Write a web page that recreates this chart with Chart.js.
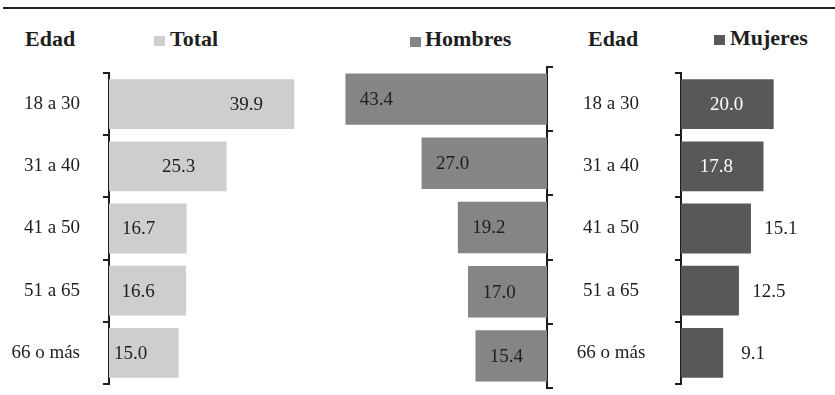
<!DOCTYPE html>
<html lang="es">
<head>
<meta charset="utf-8">
<title>Distribución por edad y sexo</title>
<script src="https://cdn.jsdelivr.net/npm/chart.js@4.4.1/dist/chart.umd.min.js"></script>
<style>
  html, body { margin: 0; padding: 0; background: #fff; }
  body {
    width: 835px; height: 395px; position: relative; overflow: hidden;
    font-family: "Liberation Serif", "DejaVu Serif", "Noto Serif", Tinos, "Times New Roman", "Nimbus Roman", FreeSerif, Georgia, serif;
    color: #1e1e1e;
  }
  .rule { position: absolute; left: 3px; right: 0; top: 7px; height: 2px; background: #222; }
  .head { position: absolute; top: 28px; font-size: 22px; font-weight: bold; line-height: 22px; white-space: nowrap; }
  .swatch { position: absolute; width: 11px; height: 10px; }
  canvas { position: absolute; top: 0; }
</style>
</head>
<body>
<div class="rule"></div>

<div class="head" style="left:25px">Edad</div>
<div class="swatch" style="left:154px;top:36px;background:#cecece"></div>
<div class="head" style="left:170px">Total</div>

<div class="swatch" style="left:410px;top:37px;background:#858585"></div>
<div class="head" style="left:425px">Hombres</div>
<div class="head" style="left:588px">Edad</div>
<div class="swatch" style="left:714px;top:35px;background:#585858"></div>
<div class="head" style="left:730px;top:27px">Mujeres</div>

<canvas id="totalChart" width="330" height="395" style="left:0"></canvas>
<canvas id="hombresChart" width="230" height="395" style="left:330px"></canvas>
<canvas id="mujeresChart" width="275" height="395" style="left:560px"></canvas>

<script>
  const ageGroups = ['18 a 30', '31 a 40', '41 a 50', '51 a 65', '66 o más'];
  const totalValues = [39.9, 25.3, 16.7, 16.6, 15.0];
  const hombresValues = [43.4, 27.0, 19.2, 17.0, 15.4];
  const mujeresValues = [20.0, 17.8, 15.1, 12.5, 9.1];

  const INK = '#1e1e1e';
  const FONT_FAMILY = '"Liberation Serif", "DejaVu Serif", "Noto Serif", Tinos, "Times New Roman", "Nimbus Roman", FreeSerif, Georgia, serif';
  const LABEL_FONT = { family: FONT_FAMILY, size: 19 };

  // draws the number next to/inside each bar, placement decided per chart
  function valueLabels(place) {
    return {
      id: 'valueLabels',
      afterDatasetsDraw(chart) {
        const { ctx } = chart;
        const meta = chart.getDatasetMeta(0);
        const values = chart.data.datasets[0].data;
        ctx.save();
        ctx.font = `${LABEL_FONT.size}px ${FONT_FAMILY}`;
        ctx.textAlign = 'center';
        ctx.textBaseline = 'middle';
        meta.data.forEach((bar, i) => {
          const spot = place(bar, values[i]);
          ctx.fillStyle = spot.color;
          ctx.fillText(values[i].toFixed(1), spot.x, bar.y + 1);
        });
        ctx.restore();
      }
    };
  }

  // bracket style age axis: border plus short ticks between groups
  function ageAxis(position, width, ticks) {
    return {
      position: position,
      offset: true,
      z: 1,
      border: { display: true, color: INK, width: 2 },
      grid: { offset: true, drawOnChartArea: false, drawTicks: true, tickLength: 6, color: INK, lineWidth: 2 },
      ticks: Object.assign({ color: INK, font: LABEL_FONT }, ticks),
      afterFit(scale) {
        scale.width = width;
        // the label padding must not shrink the plot area
        scale.paddingTop = 0;
        scale.paddingBottom = 0;
      }
    };
  }

  function barChart(canvasId, values, color, opts) {
    return new Chart(document.getElementById(canvasId), {
      type: 'bar',
      data: {
        labels: ageGroups,
        datasets: [{
          data: values,
          backgroundColor: color,
          borderWidth: 0,
          categoryPercentage: 1,
          barPercentage: 0.8
        }]
      },
      options: {
        indexAxis: 'y',
        responsive: false,
        animation: false,
        layout: { padding: opts.padding },
        plugins: { legend: { display: false }, tooltip: { enabled: false } },
        scales: {
          x: { display: false, min: 0, max: opts.max, reverse: !!opts.reverse },
          y: opts.axis
        }
      },
      plugins: [valueLabels(opts.place)]
    });
  }

  // Total
  barChart('totalChart', totalValues, '#cecece', {
    max: 45,
    padding: { left: 0, right: 12, top: 73, bottom: 11 },
    axis: ageAxis('left', 109, { padding: 23 }),
    place: bar => ({ x: bar.x - 48, color: INK })
  });

  // Hombres, growing to the left
  barChart('hombresChart', hombresValues, '#858585', {
    max: 45,
    reverse: true,
    padding: { left: 8, right: 0, top: 67, bottom: 7 },
    axis: ageAxis('right', 13, { callback: () => '' }),
    place: bar => ({ x: bar.x + 31, color: INK })
  });

  // Mujeres; its axis also carries the centred age labels in the middle
  const measure = document.createElement('canvas').getContext('2d');
  measure.font = `${LABEL_FONT.size}px ${FONT_FAMILY}`;
  const widest = Math.max(...ageGroups.map(g => measure.measureText(g).width));

  barChart('mujeresChart', mujeresValues, '#585858', {
    max: 30,
    padding: { left: 0, right: 15, top: 73, bottom: 11 },
    axis: ageAxis('left', 121, { crossAlign: 'center', padding: Math.max(0, 64 - widest / 2) }),
    place: (bar, v) => v >= 17
      ? { x: bar.x - 47, color: '#ffffff' }
      : { x: bar.x + 30, color: INK }
  });
</script>
</body>
</html>
